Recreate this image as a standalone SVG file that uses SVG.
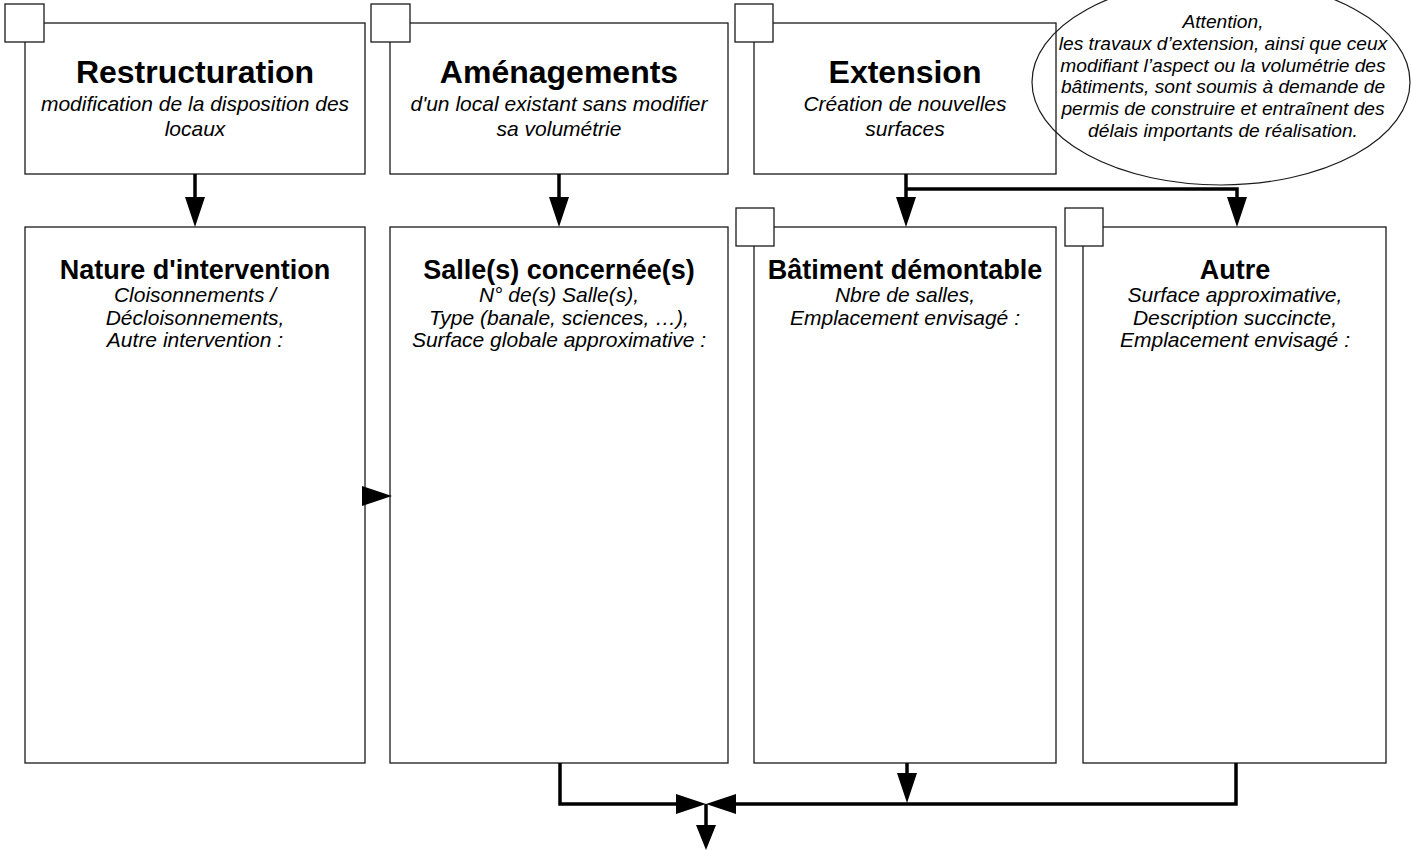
<svg xmlns="http://www.w3.org/2000/svg" width="1411" height="850" viewBox="0 0 1411 850">
<style>
.box{fill:#fff;stroke:#1a1a1a;stroke-width:1.3}
.chk{fill:#fff;stroke:#1a1a1a;stroke-width:1.3}
.t1{font-family:"Liberation Sans",Arial,sans-serif;font-weight:bold;font-size:32px;text-anchor:middle;fill:#000}
.t2{font-family:"Liberation Sans",Arial,sans-serif;font-weight:bold;font-size:27px;text-anchor:middle;fill:#000}
.it{font-family:"Liberation Sans",Arial,sans-serif;font-style:italic;font-size:21px;text-anchor:middle;fill:#000}
.el{font-family:"Liberation Sans",Arial,sans-serif;font-style:italic;font-size:19.2px;text-anchor:middle;fill:#000}
.conn{fill:none;stroke:#000;stroke-width:3.5}
</style>
<defs>
<marker id="ah" viewBox="0 0 30 20" refX="20" refY="10" markerWidth="30" markerHeight="20" markerUnits="userSpaceOnUse" orient="auto">
<path d="M0,0 L30,10 L0,20 z" fill="#000"/>
</marker>
<marker id="ahs" viewBox="0 0 25 20" refX="15" refY="10" markerWidth="25" markerHeight="20" markerUnits="userSpaceOnUse" orient="auto">
<path d="M0,0 L25,10 L0,20 z" fill="#000"/>
</marker>
</defs>
<rect width="1411" height="850" fill="#fff"/>

<g id="restructuration">
<rect class="box" x="25" y="23" width="340" height="151"/>
<rect class="chk" x="5" y="4" width="39" height="38"/>
<text class="t1" x="195" y="83">Restructuration</text>
<text class="it" x="195" y="111">modification de la disposition des</text>
<text class="it" x="195" y="136">locaux</text>
</g>

<g id="amenagements">
<rect class="box" x="390" y="23" width="338" height="151"/>
<rect class="chk" x="371" y="4" width="39" height="38"/>
<text class="t1" x="559" y="83">Aménagements</text>
<text class="it" x="559" y="111">d'un local existant sans modifier</text>
<text class="it" x="559" y="136">sa volumétrie</text>
</g>

<g id="extension">
<rect class="box" x="754" y="23" width="302" height="151"/>
<rect class="chk" x="735" y="4" width="38" height="38"/>
<text class="t1" x="905" y="83">Extension</text>
<text class="it" x="905" y="111">Création de nouvelles</text>
<text class="it" x="905" y="136">surfaces</text>
</g>

<g id="attention">
<ellipse cx="1221" cy="82" rx="189" ry="103" fill="none" stroke="#1a1a1a" stroke-width="1.2"/>
<text class="el" x="1223" y="28">Attention,</text>
<text class="el" x="1223" y="50">les travaux d’extension, ainsi que ceux</text>
<text class="el" x="1223" y="72">modifiant l’aspect ou la volumétrie des</text>
<text class="el" x="1223" y="93">bâtiments, sont soumis à demande de</text>
<text class="el" x="1223" y="115">permis de construire et entraînent des</text>
<text class="el" x="1223" y="137">délais importants de réalisation.</text>
</g>

<g id="nature">
<rect class="box" x="25" y="227" width="340" height="536"/>
<text class="t2" x="195" y="279">Nature d'intervention</text>
<text class="it" x="195" y="302">Cloisonnements /</text>
<text class="it" x="195" y="325">Décloisonnements,</text>
<text class="it" x="195" y="347">Autre intervention :</text>
</g>

<g id="salles">
<rect class="box" x="390" y="227" width="338" height="536"/>
<text class="t2" x="559" y="279">Salle(s) concernée(s)</text>
<text class="it" x="559" y="302">N° de(s) Salle(s),</text>
<text class="it" x="559" y="325">Type (banale, sciences, …),</text>
<text class="it" x="559" y="347">Surface globale approximative :</text>
</g>

<g id="batiment">
<rect class="box" x="754" y="227" width="302" height="536"/>
<rect class="chk" x="736" y="208" width="38" height="38"/>
<text class="t2" x="905" y="279">Bâtiment démontable</text>
<text class="it" x="905" y="302">Nbre de salles,</text>
<text class="it" x="905" y="325">Emplacement envisagé :</text>
</g>

<g id="autre">
<rect class="box" x="1083" y="227" width="303" height="536"/>
<rect class="chk" x="1065" y="208" width="38" height="38"/>
<text class="t2" x="1235" y="279">Autre</text>
<text class="it" x="1235" y="302">Surface approximative,</text>
<text class="it" x="1235" y="325">Description succincte,</text>
<text class="it" x="1235" y="347">Emplacement envisagé :</text>
</g>

<g id="connectors">
<path class="conn" d="M195,174 V217" marker-end="url(#ah)"/>
<path class="conn" d="M559,174 V217" marker-end="url(#ah)"/>
<path class="conn" d="M906,174 V217" marker-end="url(#ah)"/>
<path class="conn" d="M906,189 H1237 V217" marker-end="url(#ah)"/>
<polygon points="362,486 392,496 362,506" fill="#000"/>
<path class="conn" d="M560,763 V804 H696" marker-end="url(#ah)"/>
<path class="conn" d="M1236,763 V804 H716" marker-end="url(#ah)"/>
<path class="conn" d="M907,763 V793" marker-end="url(#ah)"/>
<path class="conn" d="M706,804 V840" marker-end="url(#ahs)"/>
</g>
</svg>
